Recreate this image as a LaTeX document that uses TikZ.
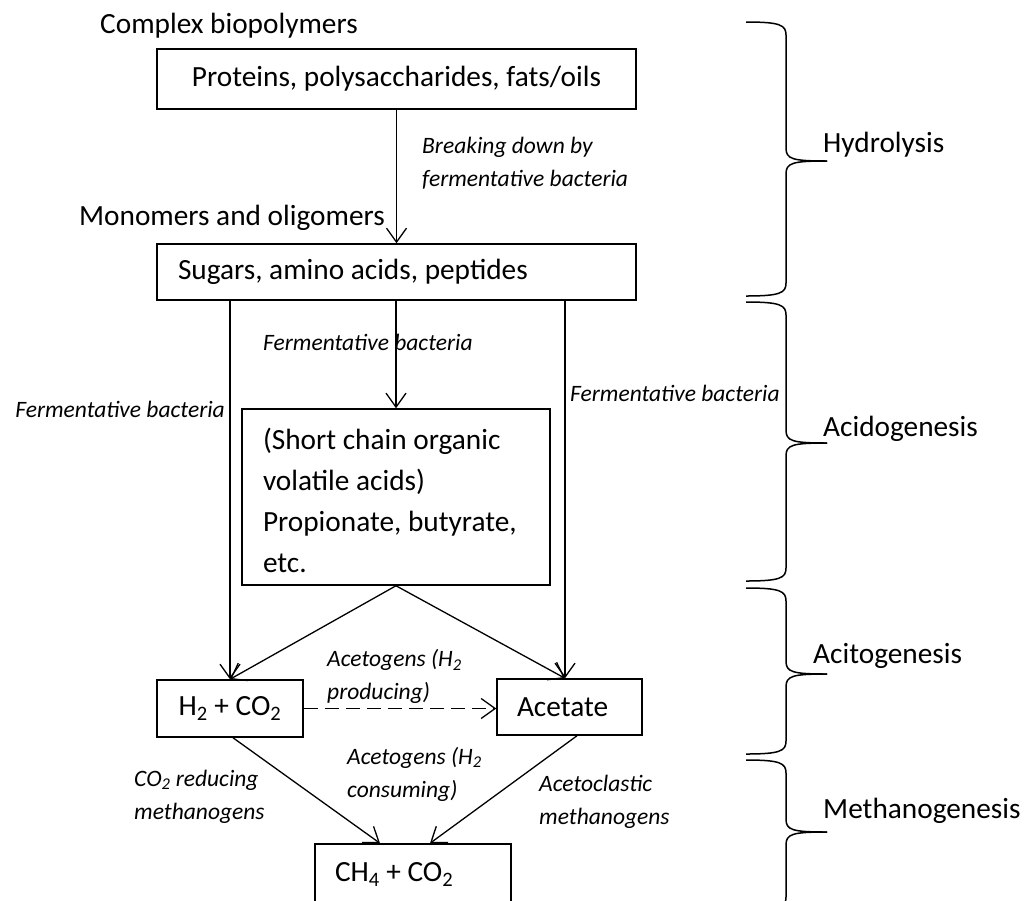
\documentclass[tikz,border=0pt]{standalone}
\usepackage{fontspec}
\setmainfont{Carlito}
\usepackage{tikz}
\usetikzlibrary{arrows.meta,positioning}
\newcommand{\mainsz}{\fontsize{29.3}{41}\selectfont}
\newcommand{\lblsz}{\fontsize{23.5}{33}\selectfont}
% one curly brace for a stage: top, tip and bottom (px)
\newcommand{\phasebrace}[3]{%
  \draw[brace] (746,#1) .. controls (780,#1) and (786,#1+3) .. (786,#1+13)
    -- (786,#2-13) .. controls (786,#2-2) and (792,#2) .. (827,#2);
  \draw[brace] (827,#2) .. controls (792,#2) and (786,#2+2) .. (786,#2+13)
    -- (786,#3-13) .. controls (786,#3-3) and (780,#3) .. (746,#3);}
\tikzset{
  box/.style={draw, line width=1.5pt, inner sep=0pt, font=\mainsz},
  stage/.style={inner sep=0pt, font=\mainsz},
  lbl/.style={inner sep=0pt, align=left, font=\lblsz\itshape},
  flow/.style={line width=1.3pt},
  arw/.style={flow, -{Straight Barb[length=14pt,width=20pt]}},
  brace/.style={line width=1.5pt}
}
\begin{document}
\begin{tikzpicture}[x=1pt,y=-1pt]
    \useasboundingbox (0,0) rectangle (1024,900);

    % Hydrolysis: polymers down to monomers.
    \node[stage, anchor=base west] (cplx) at (100,33) {Complex biopolymers};
    \node[box, minimum width=479pt, minimum height=60pt] (poly) at (396.5,79)
      {Proteins, polysaccharides, fats/oils};
    \node[stage, anchor=base east] (olig) at (385,225) {Monomers and oligomers};
    \node[box, minimum width=479pt, minimum height=56pt] (mono) at (396.5,272)
      {\makebox[437pt][l]{Sugars, amino acids, peptides}};
    \node[lbl, anchor=west] (brk) at (422,163.5)
      {Breaking down by\\fermentative bacteria};

    % Acidogenesis.
    \node[box, minimum width=308pt, minimum height=176pt, align=left] (scfa)
      at (396,497) {\rule{0pt}{28pt}\makebox[266pt][l]{(Short chain organic}\\
      volatile acids)\\Propionate, butyrate,\\etc.};
    \node[lbl, anchor=base west] (fcen) at (263,350) {Fermentative bacteria};
    \node[lbl, anchor=base east] (fleft) at (225,417) {Fermentative bacteria};
    \node[lbl, anchor=base west] (fright) at (570,401) {Fermentative bacteria};

    % Acetogenesis.
    \node[box, minimum width=146pt, minimum height=57pt] (h2) at (230,708.5)
      {H\textsubscript{2} + CO\textsubscript{2}};
    \node[box, minimum width=145pt, minimum height=56pt] (acetate)
      at (569.5,707) {\makebox[105pt][l]{Acetate}};
    \node[lbl, anchor=west] (prod) at (327,676.5)
      {Acetogens (H\textsubscript{2}\\producing)};

    % Methanogenesis.
    \node[box, minimum width=196pt, minimum height=61pt] (ch4) at (413,874.5)
      {\makebox[156pt][l]{CH\textsubscript{4} + CO\textsubscript{2}}};
    \node[lbl, anchor=west] (cons) at (347,774)
      {Acetogens (H\textsubscript{2}\\consuming)};
    \node[lbl, anchor=west] (co2red) at (134,796.5)
      {CO\textsubscript{2} reducing\\methanogens};
    \node[lbl, anchor=west] (aclast) at (539,801.5)
      {Acetoclastic\\methanogens};

    \coordinate (rdrop) at (565,0);
    \draw[arw] (poly) -- (mono);
    \draw[arw] (mono.south -| scfa.north) -- (scfa.north);
    \draw[arw] (mono.south -| h2.north) -- (h2.north);
    \draw[arw] (mono.south -| rdrop) -- (acetate.north -| rdrop);
    \draw[arw] (scfa.south) -- (h2.north);
    \draw[arw] (scfa.south) -- (acetate.north -| rdrop);
    \draw[arw, dash pattern=on 14pt off 7pt] (h2.east) -- (h2.east -| acetate.west);
    \draw[arw] ([xshift=3pt]h2.south) -- ([xshift=-33pt]ch4.north);
    \draw[arw] ([xshift=7.5pt]acetate.south) -- ([xshift=17pt]ch4.north);

    % Stage braces on the right.
    \phasebrace{22}{161}{296}
    \phasebrace{302}{443}{581}
    \phasebrace{588}{674}{754}
    \phasebrace{760}{832}{910}
    \node[stage, anchor=base west] (hyd) at (823,152) {Hydrolysis};
    \node[stage, anchor=base west] (acid) at (823,436) {Acidogenesis};
    \node[stage, anchor=base west] (acet) at (813,663) {Acitogenesis};
    \node[stage, anchor=base west] (meth) at (823,818) {Methanogenesis};
  \end{tikzpicture}
\end{document}
